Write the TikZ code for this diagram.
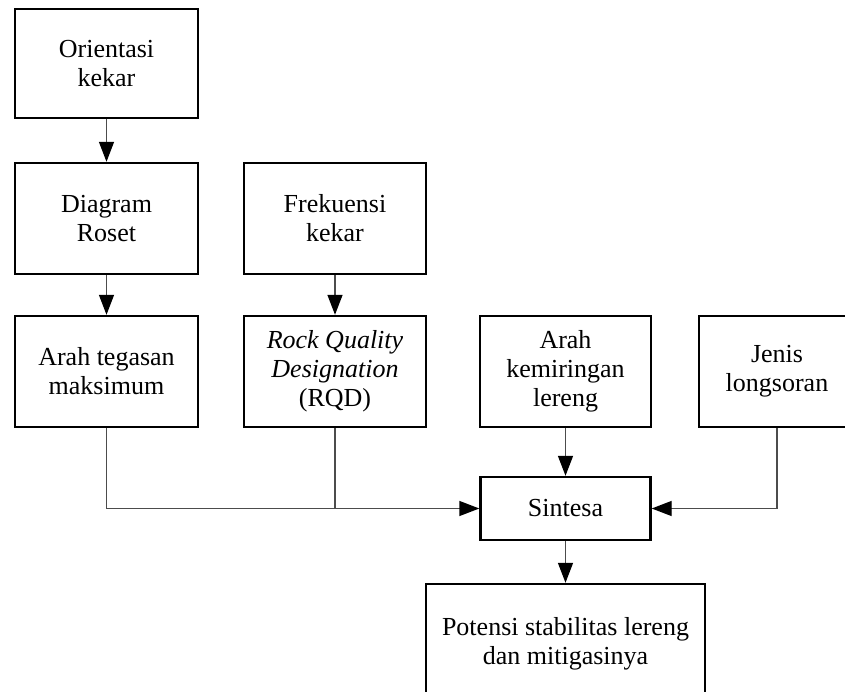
\documentclass[tikz,border=0pt]{standalone}
\usepackage{fontspec}
\setmainfont{Liberation Serif}
\usetikzlibrary{arrows.meta}

\tikzset{
  box/.style={draw=black, line width=2.4pt, align=center, inner sep=0pt,
    font=\fontsize{26}{29}\selectfont},
  link/.style={draw=black!70, line width=1.4pt,
    -{Triangle[width=15pt, length=20pt, color=black]}},
  plain/.style={draw=black!70, line width=1.4pt}
}

\begin{document}
\begin{tikzpicture}[x=1pt, y=1pt]
    % picture frame (boxes at the right and bottom run off the edge)
    \clip (0, 0) rectangle (845, 691);
    \fill[white] (0, 0) rectangle (845, 691);

    % draw boxes
    \node[box, minimum width=183, minimum height=109] (orientasi) at (106.5, 627.5) {Orientasi\\kekar};
    \node[box, minimum width=183, minimum height=111] (roset) at (106.5, 472.5) {Diagram\\Roset};
    \node[box, minimum width=182, minimum height=111] (frekuensi) at (335, 472.5) {Frekuensi\\kekar};
    \node[box, minimum width=183, minimum height=111] (tegasan) at (106.5, 319.5) {Arah tegasan\\maksimum};
    \node[box, minimum width=182, minimum height=111] (rqd) at (335, 319.5) {\textit{Rock Quality}\\\textit{Designation}\\(RQD)};
    \node[box, minimum width=171, minimum height=111] (kemiringan) at (565.5, 319.5) {Arah\\kemiringan\\lereng};
    \node[box, minimum width=156, minimum height=111] (longsoran) at (777, 319.5) {Jenis\\longsoran};
    \node[box, minimum width=170, minimum height=63] (sintesa) at (565.5, 182.5) {Sintesa};
    \node[box, minimum width=279, minimum height=120] (potensi) at (565.5, 47) {Potensi stabilitas lereng\\dan mitigasinya};

    % draw connectors
    \draw[link] (orientasi.south) -- (roset.north);
    \draw[link] (roset.south) -- (tegasan.north);
    \draw[link] (frekuensi.south) -- (rqd.north);
    \draw[link] (tegasan.south) |- (sintesa.west);
    \draw[plain] (rqd.south) -- (rqd.south |- sintesa.west);
    \draw[link] (kemiringan.south) -- (sintesa.north);
    \draw[link] (longsoran.south) |- (sintesa.east);
    \draw[link] (sintesa.south) -- (potensi.north);

\end{tikzpicture}
\end{document}
